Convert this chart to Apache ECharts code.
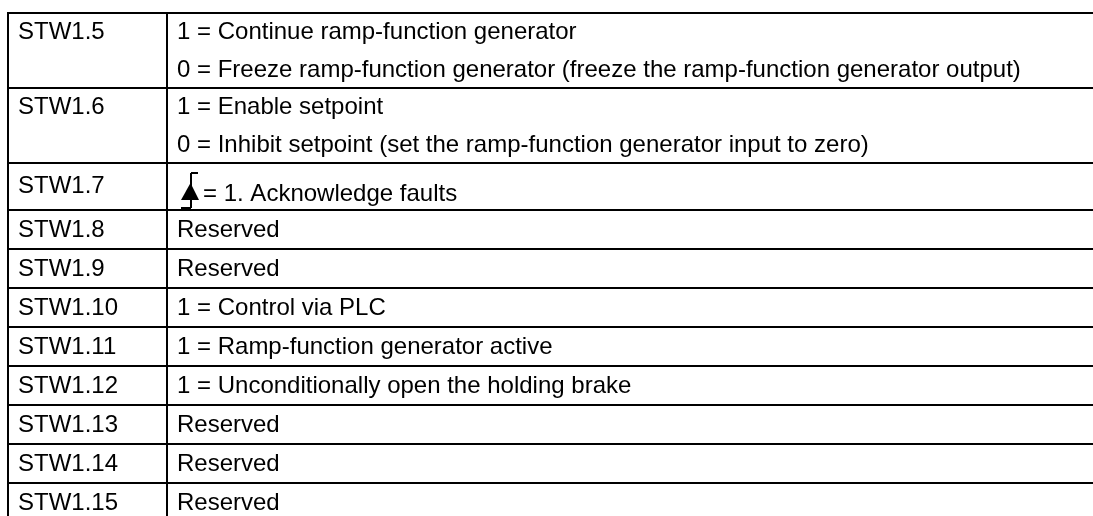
<!DOCTYPE html>
<html>
<head>
<meta charset="utf-8">
<script src="https://cdn.jsdelivr.net/npm/echarts@6/dist/echarts.min.js"></script>
<style>
html,body{margin:0;padding:0;background:#fff;}
#chart{width:1093px;height:516px;}
</style>
</head>
<body>
<div id="chart"></div>
<script>
// ---- data ----
const CODES = ['STW1.5','STW1.6','STW1.7','STW1.8','STW1.9','STW1.10','STW1.11','STW1.12','STW1.13','STW1.14','STW1.15'];
const DESCRIPTIONS = [
  ['1 = Continue ramp-function generator', '0 = Freeze ramp-function generator (freeze the ramp-function generator output)'],
  ['1 = Enable setpoint', '0 = Inhibit setpoint (set the ramp-function generator input to zero)'],
  ['= 1. Acknowledge faults'],
  ['Reserved'],
  ['Reserved'],
  ['1 = Control via PLC'],
  ['1 = Ramp-function generator active'],
  ['1 = Unconditionally open the holding brake'],
  ['Reserved'],
  ['Reserved'],
  ['Reserved']
];
const RISING_EDGE_ROWS = ['STW1.7'];

// ---- layout ----
const W = 1093, H = 516;
const TABLE_X = 8, TABLE_Y = 13, COL_X = 167;
const LINE_H = 37.5, SINGLE_H = 39, EDGE_H = 47;
const PAD_X = 10;
const FONT = '"Liberation Sans", Arial, sans-serif';
const FONT_SIZE = 24;
const INK = '#000';

const rowHeights = CODES.map((c, i) => {
  if (DESCRIPTIONS[i].length > 1) return DESCRIPTIONS[i].length * LINE_H;
  return RISING_EDGE_ROWS.includes(c) ? EDGE_H : SINGLE_H;
});
const rowTops = [];
rowHeights.reduce((acc, h, i) => { rowTops[i] = acc; return acc + h; }, TABLE_Y);

function renderRow(params, api) {
  const i = api.value(0);
  const top = rowTops[i], h = rowHeights[i], bottom = top + h;
  const p = (x, y) => api.coord([x, y]);
  const children = [];
  const line = (x1, y1, x2, y2, w) => {
    const a = p(x1, y1), b = p(x2, y2);
    children.push({type: 'line', shape: {x1: a[0], y1: a[1], x2: b[0], y2: b[1]},
      style: {stroke: INK, lineWidth: w || 2}, silent: true});
  };
  // grid lines
  line(TABLE_X - 1, top, W, top);
  if (i === CODES.length - 1) line(TABLE_X - 1, bottom, W, bottom);
  line(TABLE_X, top, TABLE_X, bottom);
  line(COL_X, top, COL_X, bottom);

  const edge = RISING_EDGE_ROWS.includes(CODES[i]);
  // code text
  const codeY = edge ? top + 22 : top + (DESCRIPTIONS[i].length > 1 ? LINE_H : h) / 2;
  const cp = p(TABLE_X + PAD_X, codeY + 1);
  children.push({type: 'text', x: cp[0], y: cp[1], silent: true,
    style: {text: CODES[i], fill: INK, font: FONT_SIZE + 'px ' + FONT, textVerticalAlign: 'middle', textAlign: 'left'}});

  // description
  const dx = COL_X + PAD_X;
  if (edge) {
    // rising edge symbol
    line(dx + 14, top + 10, dx + 21, top + 10, 2);
    line(dx + 14, top + 10, dx + 14, top + 45, 2);
    line(dx + 4, top + 45, dx + 14, top + 45, 2);
    const t1 = p(dx + 13.5, top + 20), t2 = p(dx + 22, top + 37), t3 = p(dx + 4, top + 37);
    children.push({type: 'polygon', shape: {points: [t1, t2, t3]}, style: {fill: INK}, silent: true});
    const tp = p(dx + 26, top + 31);
    children.push({type: 'text', x: tp[0], y: tp[1], silent: true,
      style: {text: DESCRIPTIONS[i][0], fill: INK, font: FONT_SIZE + 'px ' + FONT, textVerticalAlign: 'middle', textAlign: 'left'}});
  } else {
    const lh = DESCRIPTIONS[i].length > 1 ? LINE_H : h;
    DESCRIPTIONS[i].forEach((txt, k) => {
      const tp = p(dx, top + lh * k + lh / 2 + 1);
      children.push({type: 'text', x: tp[0], y: tp[1], silent: true,
        style: {text: txt, fill: INK, font: FONT_SIZE + 'px ' + FONT, textVerticalAlign: 'middle', textAlign: 'left'}});
    });
  }
  return {type: 'group', children};
}

const chart = echarts.init(document.getElementById('chart'), null, {renderer: 'canvas'});
chart.setOption({
  animation: false,
  backgroundColor: '#fff',
  grid: {left: 0, right: 0, top: 0, bottom: 0},
  xAxis: {type: 'value', min: 0, max: W, show: false},
  yAxis: {type: 'value', min: 0, max: H, inverse: true, show: false},
  series: [{
    type: 'custom',
    renderItem: renderRow,
    data: CODES.map((c, i) => [i]),
    clip: false,
    silent: true
  }]
});
</script>
</body>
</html>
